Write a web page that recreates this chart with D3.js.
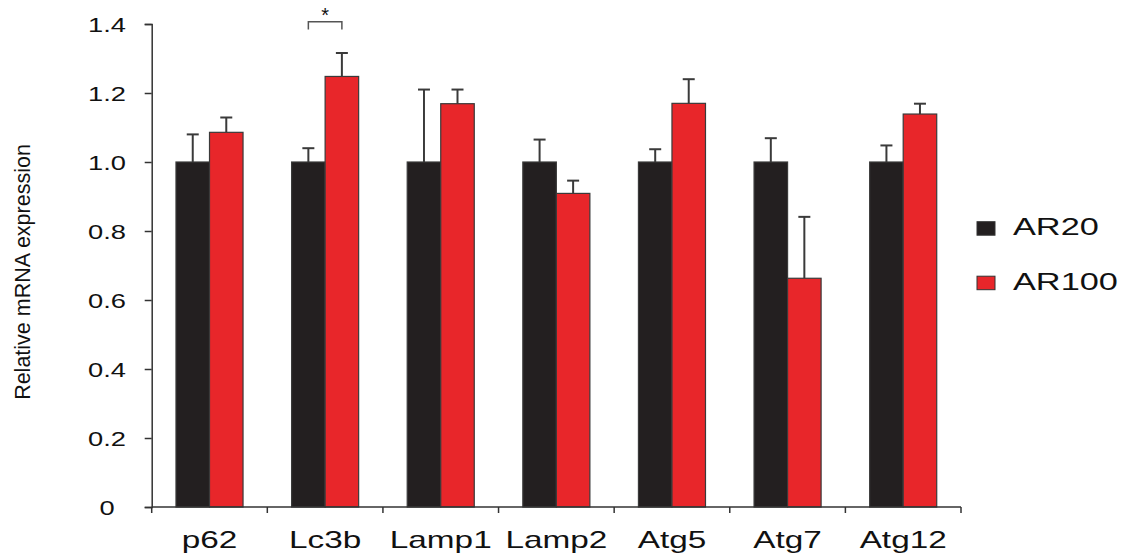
<!DOCTYPE html>
<html>
<head>
<meta charset="utf-8">
<script src="https://cdn.jsdelivr.net/npm/d3@7"></script>
<style>
  body { margin: 0; background: #fff; }
  svg text { font-family: "Liberation Sans", Arial, sans-serif; fill: #111; }
</style>
</head>
<body>
<svg id="chart" width="1134" height="559"></svg>
<script>
// data
const genes = ['p62', 'Lc3b', 'Lamp1', 'Lamp2', 'Atg5', 'Atg7', 'Atg12'];
const groups = ['AR20', 'AR100'];
const ar20 = [1.0, 1.0, 1.0, 1.0, 1.0, 1.0, 1.0];
const ar20Err = [0.08, 0.04, 0.21, 0.065, 0.037, 0.069, 0.048];
const ar100 = [1.086, 1.248, 1.169, 0.909, 1.17, 0.663, 1.139];
const ar100Err = [0.043, 0.068, 0.041, 0.037, 0.07, 0.178, 0.03];
const yTicks = [0, 0.2, 0.4, 0.6, 0.8, 1.0, 1.2, 1.4];
const signif = [{ gene: 'Lc3b', label: '*' }];

const colors = { AR20: '#231f20', AR100: '#e8262a' };

const svg = d3.select('#chart');

const x = d3.scaleBand()
  .domain(genes)
  .range([151.7, 961])
  .paddingInner(0.42)
  .paddingOuter(0.21);

const xSub = d3.scaleBand()
  .domain(groups)
  .range([0, x.bandwidth()]);

const y = d3.scaleLinear()
  .domain([0, 1.4])
  .range([507, 24]);

// rows: one per bar
const rows = [];
genes.forEach((g, i) => {
  rows.push({ gene: g, group: 'AR20', value: ar20[i], err: ar20Err[i] });
  rows.push({ gene: g, group: 'AR100', value: ar100[i], err: ar100Err[i] });
});

// error bars (behind bars)
const capW = 12;
const eb = svg.append('g')
  .attr('stroke', '#3a3a3a')
  .attr('stroke-width', 2);

eb.selectAll('line.v')
  .data(rows)
  .enter()
  .append('line')
  .attr('x1', d => x(d.gene) + xSub(d.group) + xSub.bandwidth() / 2)
  .attr('x2', d => x(d.gene) + xSub(d.group) + xSub.bandwidth() / 2)
  .attr('y1', d => y(d.value))
  .attr('y2', d => y(d.value + d.err));

eb.selectAll('line.cap')
  .data(rows)
  .enter()
  .append('line')
  .attr('x1', d => x(d.gene) + xSub(d.group) + xSub.bandwidth() / 2 - capW / 2)
  .attr('x2', d => x(d.gene) + xSub(d.group) + xSub.bandwidth() / 2 + capW / 2)
  .attr('y1', d => y(d.value + d.err))
  .attr('y2', d => y(d.value + d.err));

// bars
svg.append('g')
  .selectAll('rect')
  .data(rows)
  .enter()
  .append('rect')
  .attr('x', d => x(d.gene) + xSub(d.group))
  .attr('y', d => y(d.value))
  .attr('width', xSub.bandwidth())
  .attr('height', d => y(0) - y(d.value))
  .attr('fill', d => colors[d.group])
  .attr('stroke', '#3a3a3a')
  .attr('stroke-width', 1.2);

// y axis
const yAxis = svg.append('g')
  .attr('transform', 'translate(151.7,0)')
  .call(d3.axisLeft(y)
    .tickValues(yTicks)
    .tickSize(7)
    .tickFormat(d => d === 0 ? '0' : d.toFixed(1)));

yAxis.select('.domain').attr('stroke', '#333').attr('stroke-width', 1.5);
yAxis.selectAll('.tick line').attr('stroke', '#333').attr('stroke-width', 1.5);
yAxis.selectAll('.tick text')
  .attr('text-anchor', 'middle')
  .attr('x', -44.7 / 1.3)
  .attr('dy', '0.36em')
  .attr('transform', 'scale(1.3,1)')
  .style('font-size', '21px')
  .style('fill', '#111');

// x axis: line with ticks on the band edges
const xAxis = svg.append('g');
xAxis.append('line')
  .attr('x1', x.range()[0])
  .attr('x2', x.range()[1])
  .attr('y1', y(0))
  .attr('y2', y(0))
  .attr('stroke', '#333')
  .attr('stroke-width', 1.5);

const edges = genes.map(g => x(g) - x.step() * x.paddingOuter()).concat([x.range()[1]]);
xAxis.selectAll('line.tick')
  .data(edges)
  .enter()
  .append('line')
  .attr('x1', d => d)
  .attr('x2', d => d)
  .attr('y1', y(0))
  .attr('y2', y(0) + 6)
  .attr('stroke', '#333')
  .attr('stroke-width', 1.5);

xAxis.selectAll('text')
  .data(genes)
  .enter()
  .append('text')
  .attr('transform', d => `translate(${x(d) + x.bandwidth() / 2},548) scale(1.45,1)`)
  .attr('text-anchor', 'middle')
  .style('font-size', '23px')
  .text(d => d);

// y title
svg.append('text')
  .attr('transform', 'translate(30,272) rotate(-90)')
  .attr('text-anchor', 'middle')
  .style('font-size', '21.5px')
  .text('Relative mRNA expression');

// significance bracket
signif.forEach(s => {
  const x1 = x(s.gene) + xSub('AR20') + xSub.bandwidth() / 2;
  const x2 = x(s.gene) + xSub('AR100') + xSub.bandwidth() / 2;
  svg.append('path')
    .attr('d', `M${x1},29.5V21.7H${x2}V29.5`)
    .attr('fill', 'none')
    .attr('stroke', '#555')
    .attr('stroke-width', 1.5);
  svg.append('text')
    .attr('x', (x1 + x2) / 2)
    .attr('y', 22)
    .attr('text-anchor', 'middle')
    .style('font-size', '20px')
    .text(s.label);
});

// legend
const legend = svg.append('g')
  .attr('transform', 'translate(977,0)')
  .selectAll('g')
  .data(groups)
  .enter()
  .append('g')
  .attr('transform', (d, i) => `translate(0,${221.7 + i * 54.5})`);

legend.append('rect')
  .attr('width', 18)
  .attr('height', 13.5)
  .attr('fill', d => colors[d])
  .attr('stroke', '#333')
  .attr('stroke-width', 1);

legend.append('text')
  .attr('transform', 'translate(36,13.5) scale(1.46,1)')
  .style('font-size', '23.5px')
  .text(d => d);
</script>
</body>
</html>
